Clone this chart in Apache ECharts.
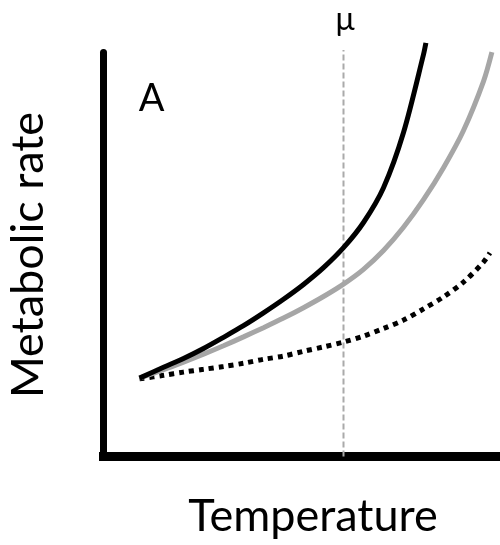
<!DOCTYPE html>
<html>
<head>
<meta charset="utf-8">
<title>Metabolic rate vs Temperature</title>
<script src="https://cdn.jsdelivr.net/npm/echarts@6/dist/echarts.min.js"></script>
<style>
    html, body { margin: 0; padding: 0; background: #fff; }
    #chart { width: 500px; height: 545px; }
</style>
</head>
<body>
<div id="chart"></div>
<script>
// data (arbitrary units)
const tempX = [0.9, 1.5, 2.0, 2.5, 3.0, 3.5, 4.0, 4.5, 5.0, 5.5, 6.0, 6.5, 7.0, 7.5, 8.0, 8.5, 9.0, 9.5];
// solid black curve
const blackX = tempX.slice(0, 15).concat([8.06]);
const blackY = [1.96, 2.23, 2.45, 2.70, 2.98, 3.27, 3.59, 3.93, 4.30, 4.72, 5.22, 5.85, 6.72, 8.10, 10.05, 10.34];
// solid grey curve
const grayX = tempX.concat([9.71]);
const grayY = [1.96, 2.17, 2.36, 2.56, 2.77, 2.99, 3.22, 3.46, 3.72, 4.00, 4.31, 4.68, 5.15, 5.73, 6.42, 7.22, 8.15, 9.38, 10.11];
// dotted black curve
const dotX = tempX.concat([9.66]);
const dotY = [1.94, 2.03, 2.11, 2.18, 2.25, 2.33, 2.43, 2.51, 2.63, 2.74, 2.86, 3.01, 3.20, 3.41, 3.69, 3.99, 4.36, 4.86, 5.09];
// μ line
const muX = 6.0;
const muTop = 10.16;

(function () {
    let myChart = echarts.init(document.getElementById("chart"));

    // x/y 两个数组合成点
    function pairs(xs, ys) {
        return xs.map(function (x, i) { return [x, ys[i]]; });
    }

    let labelFont = "Lato, 'Open Sans', sans-serif";

    let option = {
        animation: false,
        backgroundColor: "#fff",
        grid: {
            left: 103.5,
            right: 0.5,
            top: 52.5,
            bottom: 88.5
        },
        xAxis: {
            type: "value",
            min: 0,
            max: 9.9,
            axisLine: {
                show: true,
                lineStyle: { color: "#000", width: 9, cap: "square" }
            },
            axisTick: { show: false },
            axisLabel: { show: false },
            splitLine: { show: false }
        },
        yAxis: {
            type: "value",
            min: 0,
            max: 10.1,
            axisLine: {
                show: true,
                lineStyle: { color: "#000", width: 7 }
            },
            axisTick: { show: false },
            axisLabel: { show: false },
            splitLine: { show: false }
        },
        series: [
            {
                // μ 竖线
                type: "line",
                data: [[muX, 0], [muX, muTop]],
                showSymbol: false,
                clip: false,
                lineStyle: { color: "#aaaaaa", width: 2, type: [6, 3] },
                z: 1
            },
            {
                type: "line",
                data: pairs(dotX, dotY),
                smooth: 0.3,
                showSymbol: false,
                clip: false,
                lineStyle: { color: "#000", width: 5, type: [5, 5], cap: "butt" },
                z: 2
            },
            {
                type: "line",
                data: pairs(grayX, grayY),
                smooth: 0.3,
                showSymbol: false,
                clip: false,
                lineStyle: { color: "#a6a6a6", width: 5 },
                z: 3
            },
            {
                type: "line",
                data: pairs(blackX, blackY),
                smooth: 0.3,
                showSymbol: false,
                clip: false,
                lineStyle: { color: "#000", width: 5 },
                z: 4
            }
        ],
        graphic: [
            {
                type: "text",
                x: 151.5,
                y: 99,
                style: {
                    text: "A", font: "38px " + labelFont, fill: "#000",
                    align: "center", verticalAlign: "middle"
                }
            },
            {
                type: "text",
                x: 345,
                y: 20,
                style: {
                    text: "μ", font: "32px " + labelFont, fill: "#000",
                    align: "center", verticalAlign: "middle"
                }
            },
            {
                type: "text",
                x: 313,
                y: 516,
                style: {
                    text: "Temperature", font: "45px " + labelFont, fill: "#000",
                    align: "center", verticalAlign: "middle"
                }
            },
            {
                type: "text",
                x: 28,
                y: 255,
                rotation: Math.PI / 2,
                style: {
                    text: "Metabolic rate", font: "45px " + labelFont, fill: "#000",
                    align: "center", verticalAlign: "middle"
                }
            }
        ]
    };

    myChart.setOption(option);
    window.addEventListener("resize", function () {
        myChart.resize();
    });
})();
</script>
</body>
</html>
